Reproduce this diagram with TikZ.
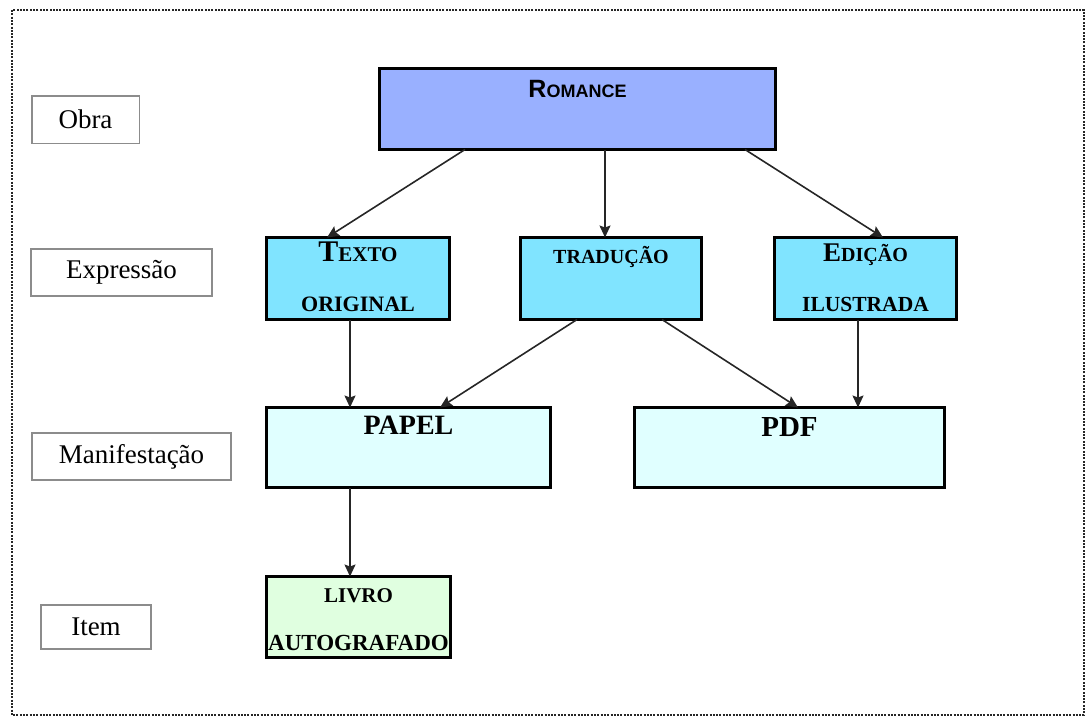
\documentclass[tikz,border=0pt]{standalone}
\usepackage{fontspec}
\setmainfont{Liberation Serif}
\newfontfamily\romfont{Liberation Sans}
\usetikzlibrary{arrows.meta,calc}

\definecolor{obraFill}{HTML}{99B0FF}
\definecolor{exprFill}{HTML}{80E4FF}
\definecolor{manifFill}{HTML}{E0FFFF}
\definecolor{itemFill}{HTML}{E0FFE0}
\definecolor{levelGray}{HTML}{8C8C8C}

\newcommand\capfont[1]{\fontsize{#1}{#1}\selectfont}

\tikzset{
  entity/.style={draw=black, line width=3pt, rectangle, inner sep=0pt, outer sep=0pt},
  level/.style={draw=levelGray, line width=1.5pt, rectangle, inner sep=0pt,
                font=\capfont{27}},
  link/.style={line width=1.6pt, draw=black!85,
               -{Stealth[length=12pt,width=11pt,inset=2pt]}},
  caption/.style={anchor=base, inner sep=0pt, font=\bfseries},
}

\begin{document}
\begin{tikzpicture}[x=1pt,y=-1pt]
\useasboundingbox (0,0) rectangle (1086,716);

% dotted outer frame
\draw[line width=2.2pt, dash pattern=on 2pt off 1.3pt, black!85]
  (12,10) rectangle (1084,715);

% FRBR levels (left column)
\node[level, minimum width=107.5pt, minimum height=47.5pt] (lobra)  at (85.5,119.5) {Obra};
\node[level, minimum width=181pt,   minimum height=47pt]   (lexpr)  at (121.5,272.5) {Expressão};
\node[level, minimum width=199pt,   minimum height=47pt]   (lmanif) at (131.5,456.5) {Manifestação};
\node[level, minimum width=110pt,   minimum height=44pt]   (litem)  at (96,627) {Item};

% entity boxes
\node[entity, fill=obraFill,  minimum width=396pt, minimum height=81pt] (romance) at (577.5,109) {};
\node[entity, fill=exprFill,  minimum width=183pt, minimum height=82pt] (texto)   at (358,278.5) {};
\node[entity, fill=exprFill,  minimum width=181pt, minimum height=82pt] (traducao) at (611,278.5) {};
\node[entity, fill=exprFill,  minimum width=182pt, minimum height=82pt] (edicao)  at (865.5,278.5) {};
\node[entity, fill=manifFill, minimum width=284pt, minimum height=80pt] (papel)   at (408.5,447.5) {};
\node[entity, fill=manifFill, minimum width=310pt, minimum height=80pt] (pdf)     at (789.5,447.5) {};
\node[entity, fill=itemFill,  minimum width=184pt, minimum height=81pt] (livro)   at (358.5,617) {};

% captions inside the boxes
\node[caption, font=\romfont\bfseries] (tromance) at ($(romance.north)+(0,28.5)$)
  {\capfont{25}R\capfont{18}OMANCE};
\node[caption] (ttexto1) at ($(texto.north)+(0,23.5)$) {\capfont{30}T\capfont{21}EXTO};
\node[caption] (ttexto2) at ($(texto.north)+(0,73.5)$) {\capfont{22}ORIGINAL};
\node[caption] (ttrad)   at ($(traducao.north)+(0,26)$) {\capfont{20}TRADUÇÃO};
\node[caption] (tedic1)  at ($(edicao.north)+(0,23.5)$) {\capfont{27}E\capfont{20}DIÇÃO};
\node[caption] (tedic2)  at ($(edicao.north)+(0,73.5)$) {\capfont{21.5}ILUSTRADA};
\node[caption] (tpapel)  at ($(papel.north)+(0,26.5)$) {\capfont{28}PAPEL};
\node[caption] (tpdf)    at ($(pdf.north)+(0,28.5)$) {\capfont{29}PDF};
\node[caption] (tlivro1) at ($(livro.north)+(0,25.5)$) {\capfont{21}LIVRO};
\node[caption] (tlivro2) at ($(livro.north)+(0,73.5)$) {\capfont{23}AUTOGRAFADO};

% connectors
\draw[link] ([xshift=-112.5pt]romance.south) -- ([xshift=-31pt]texto.north);
\draw[link] ([xshift=27.5pt]romance.south)   -- ([xshift=-6pt]traducao.north);
\draw[link] ([xshift=167.5pt]romance.south)  -- ([xshift=17.5pt]edicao.north);
\draw[link] ([xshift=-8pt]texto.south)       -- ([xshift=-58.5pt]papel.north);
\draw[link] ([xshift=-34pt]traducao.south)   -- ([xshift=31.5pt]papel.north);
\draw[link] ([xshift=51pt]traducao.south)    -- ([xshift=8.5pt]pdf.north);
\draw[link] ([xshift=-7.5pt]edicao.south)    -- ([xshift=68.5pt]pdf.north);
\draw[link] ([xshift=-58.5pt]papel.south)    -- ([xshift=-8.5pt]livro.north);
\end{tikzpicture}
\end{document}
